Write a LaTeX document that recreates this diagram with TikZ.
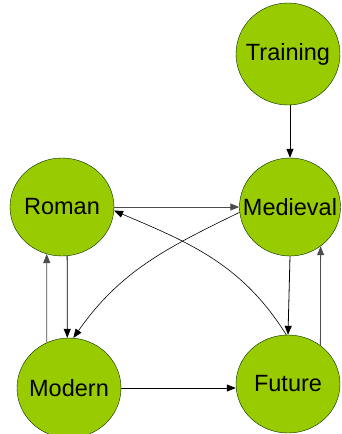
\documentclass[tikz,border=0pt]{standalone}
\usepackage{fontspec}
\setmainfont{Liberation Sans}
\usetikzlibrary{shapes.geometric,arrows.meta}
\definecolor{eraGreen}{RGB}{153,204,0}

\begin{document}
\begin{tikzpicture}[x=1pt,y=-1pt,
	era/.style={draw=black!85!green,fill=eraGreen,ellipse,inner xsep=-16pt,inner ysep=0pt,minimum width=104pt,minimum height=98pt,font=\fontsize{23.5}{26}\selectfont},
	link/.style={-{Triangle[length=9pt,width=7pt]},line width=0.8pt,black},
	thin link/.style={link,line width=0.6pt}]

	\useasboundingbox (0,0) rectangle (341,434);

	\node[era, minimum height=102pt] at (288,54) (Training) {Training};
	\node[era] at (62,207) (Roman) {Roman};
	\node[era, minimum width=101pt] at (290,207) (Medieval) {Medieval};
	\node[era, minimum height=100pt] at (69,388) (Modern) {Modern};
	\node[era] at (288,384) (Future) {Future};

	\draw[link] (Training.south -| Medieval.north) -- (Medieval.north);
	\draw[link,black!70] (Roman.east) -- (Medieval.west);
	\draw[link] (Roman.276) -- (Modern.92);
	\draw[link,black!70] (Modern.116) -- (Roman.252);
	\draw[link] (Medieval.270) -- (Future.90);
	\draw[link,black!70] (Future.50) -- (Medieval.308);
	\draw[link] (Modern.east) -- (Modern.east -| Future.west);
	\draw[thin link] (Medieval.186) to[out=206,in=55] (Modern.85);
	\draw[thin link] (Future.92) to[out=122,in=-23] (Roman.356);

\end{tikzpicture}
\end{document}
